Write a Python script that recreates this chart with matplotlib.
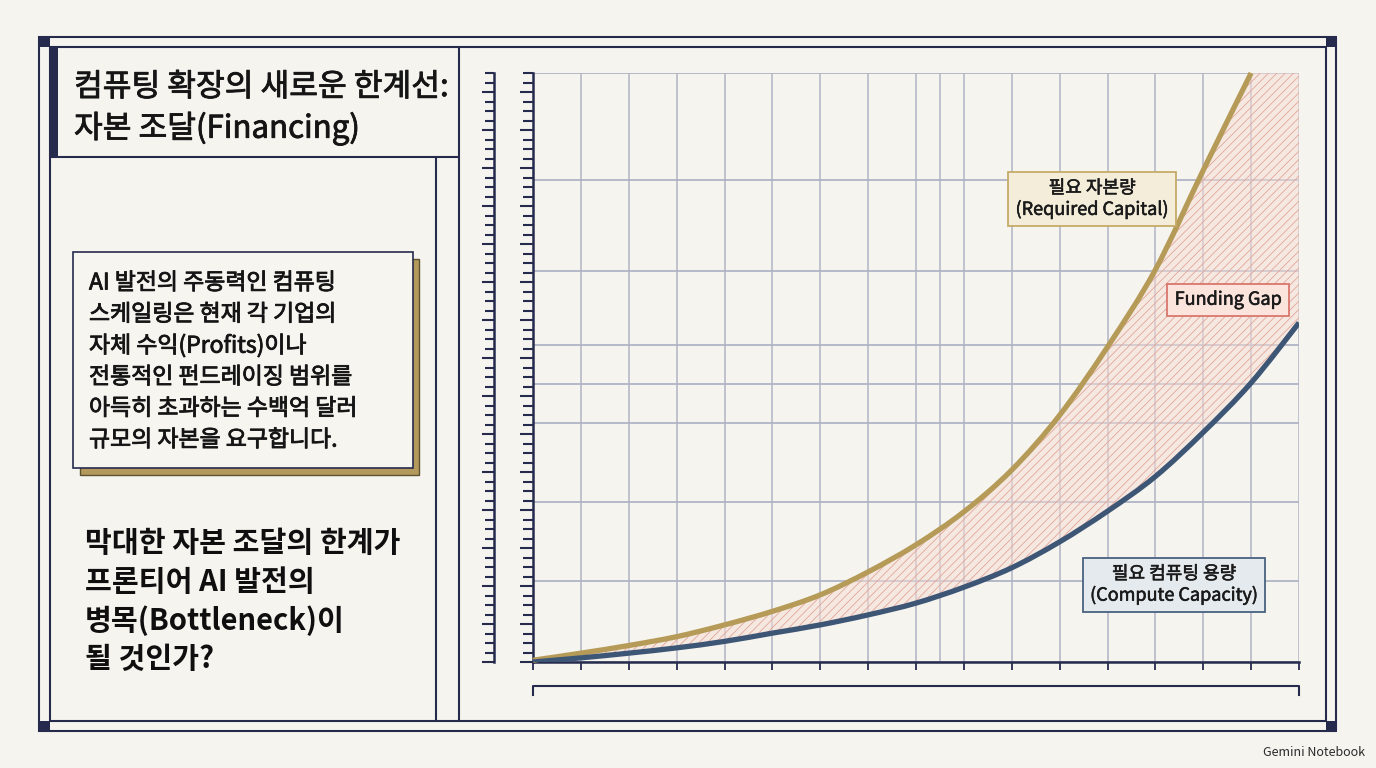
import numpy as np
import matplotlib.pyplot as plt
import matplotlib.patheffects as pe
from matplotlib.patches import Rectangle, PathPatch
from matplotlib.path import Path

plt.rcParams['font.family'] = ['Noto Sans CJK KR', 'DejaVu Sans']
plt.rcParams['hatch.linewidth'] = 0.55

W, H = 1376, 768
BG = '#f5f4ef'
NAVY = '#262b4d'
GOLD = '#b59b57'
BLUE = '#3e5675'
GRID = '#b0b3c4'
HATCH = '#e3a194'

# chart data (x = period index, y = relative scale 0..100)
periods = list(range(17))
required_capital = [0.3, 1.5, 2.8, 4.3, 6.3, 8.6, 11.4, 15.3, 19.9, 25.5,
                    32.6, 41.9, 53.5, 66.6, 83.5, 100.0]
compute_capacity = [0.0, 0.7, 1.5, 2.4, 3.5, 4.9, 6.3, 8.0, 10.0, 12.7,
                    16.0, 20.4, 25.6, 31.5, 39.0, 47.4, 57.6]
grid_x = [0, 1, 2, 3, 4, 5, 6, 7, 8, 8.5, 9, 10, 11, 12, 13, 14, 15, 16]
grid_y = [0, 13.8, 27.2, 40.6, 47.2, 53.8, 66.4, 81.8, 100]
Y_MAX = 100

title_lines = ['컴퓨팅 확장의 새로운 한계선:', '자본 조달(Financing)']
body_lines = ['AI 발전의 주동력인 컴퓨팅', '스케일링은 현재 각 기업의',
              '자체 수익(Profits)이나', '전통적인 펀드레이징 범위를',
              '아득히 초과하는 수백억 달러', '규모의 자본을 요구합니다.']
question_lines = ['막대한 자본 조달의 한계가', '프론티어 AI 발전의',
                  '병목(Bottleneck)이', '될 것인가?']
label_capital = '필요 자본량\n(Required Capital)'
label_gap = 'Funding Gap'
label_compute = '필요 컴퓨팅 용량\n(Compute Capacity)'


def smooth_path(xs, ys):
    """Catmull-Rom style cubic path through the given points."""
    pts = np.column_stack([xs, ys]).astype(float)
    ext = np.vstack([pts[0], pts, pts[-1]])
    verts = [pts[0]]
    codes = [Path.MOVETO]
    for i in range(len(pts) - 1):
        p0, p1, p2, p3 = ext[i], ext[i + 1], ext[i + 2], ext[i + 3]
        verts += [p1 + (p2 - p0) / 6, p2 - (p3 - p1) / 6, p2]
        codes += [Path.CURVE4] * 3
    return Path(verts, codes)


fig = plt.figure(figsize=(W / 100, H / 100), dpi=100, facecolor=BG)

# background layer in pixel coordinates for frames and side text
bg = fig.add_axes([0, 0, 1, 1], zorder=0)
bg.set_xlim(0, W)
bg.set_ylim(H, 0)
bg.axis('off')

def rect(x0, y0, x1, y1, **kw):
    bg.add_patch(Rectangle((x0, y0), x1 - x0, y1 - y0, **kw))

def line(xs, ys, lw=1.5):
    bg.plot(xs, ys, color=NAVY, lw=lw, solid_capstyle='butt')

rect(39, 37, 1336, 731, fill=False, ec=NAVY, lw=1.5)
rect(50, 47, 1326, 721, fill=False, ec=NAVY, lw=1.5)
for cx, cy in [(39, 37), (1326, 37), (39, 721), (1326, 721)]:
    rect(cx, cy, cx + 11, cy + 10, fc=NAVY, ec='none')
line([459, 459], [47, 721])
line([50, 459], [157, 157])
line([436, 436], [157, 721])
rect(50, 47, 58, 157, fc=NAVY, ec='none')

heavy = [pe.withStroke(linewidth=0.6, foreground='#151515')]

for i, t in enumerate(title_lines):
    bg.text(74, 87 + 41 * i, t, fontsize=22.5, color='#151515',
            va='center', ha='left', path_effects=heavy)

# text card with gold shadow
rect(80, 259, 419, 475, fc='#b39a5c', ec='#5e5230', lw=1.0)
rect(73, 252, 413, 468, fc='#f6f5f0', ec=NAVY, lw=1.2)
for i, t in enumerate(body_lines):
    bg.text(89, 283 + 31.4 * i, t, fontsize=16.5, color='#151515',
            va='center', ha='left', path_effects=heavy)

for i, t in enumerate(question_lines):
    bg.text(85, 543 + 38.8 * i, t, fontsize=21, fontweight='bold', color='#0f0f0f',
            va='center', ha='left')

bg.text(1365, 752, 'Gemini Notebook', fontsize=9, color='#2a2a2a', ha='right', va='center')

# chart
ax = fig.add_axes([533 / W, (H - 662) / H, 766 / W, 589 / H], zorder=1)
ax.patch.set_alpha(0)
ax.set_xlim(0, 16)
ax.set_ylim(0, Y_MAX)
for v in grid_x:
    ax.axvline(v, color=GRID, lw=1.1, zorder=0)
for v in grid_y:
    ax.axhline(v, color=GRID, lw=1.3, zorder=0)

# upper edge of the gap: capital curve, capped at chart top where it runs off
gap_top = required_capital + [Y_MAX]
ax.fill_between(periods, compute_capacity, gap_top, facecolor='#f6ddd4', alpha=0.5,
                edgecolor='none', zorder=1)
ax.fill_between(periods, compute_capacity, gap_top, facecolor='none', hatch='////',
                edgecolor=HATCH, lw=0, zorder=1)

ax.add_patch(PathPatch(smooth_path(periods[:len(required_capital)], required_capital),
                       fill=False, ec=GOLD, lw=3.8, capstyle='butt', zorder=3,
                       clip_on=False))
ax.add_patch(PathPatch(smooth_path(periods, compute_capacity),
                       fill=False, ec=BLUE, lw=3.8, capstyle='butt', zorder=3))

for s in ['top', 'right']:
    ax.spines[s].set_visible(False)
for s in ['left', 'bottom']:
    ax.spines[s].set_color(NAVY)
    ax.spines[s].set_linewidth(1.8)

ax.set_xticks(periods, labels=[])
ax.tick_params(axis='x', direction='out', length=6, width=1.3, color=NAVY)

minor_y = np.linspace(0, Y_MAX, 63)
major_y = minor_y[::4]
ax.set_yticks(major_y, labels=[])
ax.set_yticks(minor_y, minor=True)
ax.tick_params(axis='y', which='major', direction='out', length=9.5, width=1.5, color=NAVY)
ax.tick_params(axis='y', which='minor', direction='out', length=7, width=1.5, color=NAVY)

ruler = ax.secondary_yaxis(-39 / 766)
ruler.set_yticks(major_y, labels=[])
ruler.set_yticks(minor_y, minor=True)
ruler.spines['left'].set_color(NAVY)
ruler.spines['left'].set_linewidth(1.8)
ruler.tick_params(axis='y', which='major', direction='out', length=9, width=1.5, color=NAVY)
ruler.tick_params(axis='y', which='minor', direction='out', length=6.5, width=1.5, color=NAVY)

# bracket under the x axis
tr = ax.get_xaxis_transform()
ax.plot([0, 0, 16, 16], [-0.056, -0.041, -0.041, -0.056], color=NAVY, lw=1.5,
        transform=tr, clip_on=False)

label_fx = [pe.withStroke(linewidth=0.4, foreground='#1a1a1a')]
ax.text(11.68, 78.6, label_capital, fontsize=13, ha='center', va='center',
        color='#1a1a1a', linespacing=1.2, zorder=5, path_effects=label_fx,
        bbox=dict(boxstyle='square,pad=0.4', fc='#f3edda', ec='#c6ab68', lw=1.3))
ax.text(14.52, 61.5, label_gap, fontsize=13, ha='center', va='center',
        color='#1a1a1a', zorder=5, path_effects=label_fx,
        bbox=dict(boxstyle='square,pad=0.4', fc='#fbe4dc', ec='#d9776d', lw=1.3))
ax.text(13.39, 13.1, label_compute, fontsize=13, ha='center', va='center',
        color='#1a1a1a', linespacing=1.2, zorder=5, path_effects=label_fx,
        bbox=dict(boxstyle='square,pad=0.4', fc='#e4eaee', ec='#4a6280', lw=1.3))

fig.savefig('out.png', dpi=100, facecolor=BG)
